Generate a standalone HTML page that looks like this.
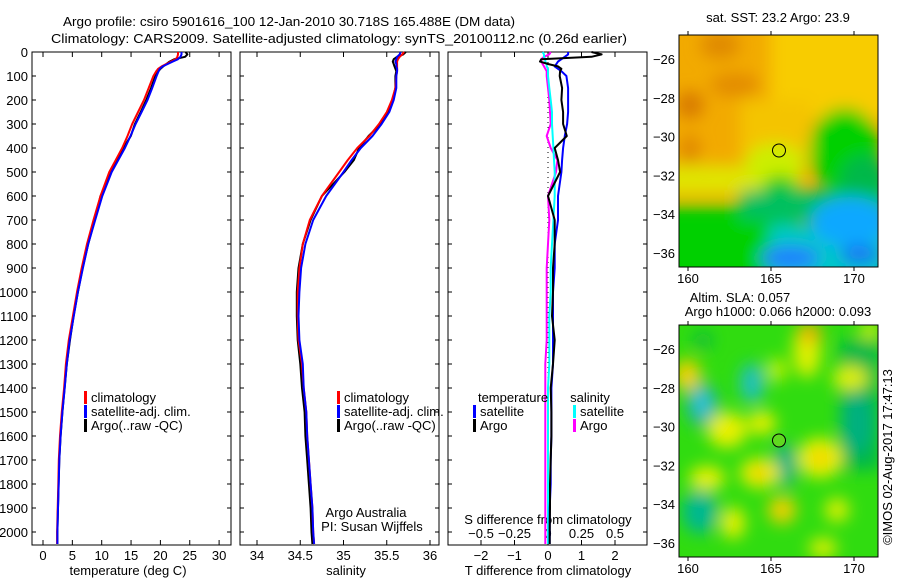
<!DOCTYPE html>
<html><head><meta charset="utf-8"><style>
body{margin:0;background:#fff}
svg text{font-family:"Liberation Sans",sans-serif;font-size:13px;fill:#000}
</style></head><body>
<svg id="c" width="900" height="580" xmlns="http://www.w3.org/2000/svg">
<defs>
<filter id="bl" x="-20%" y="-20%" width="140%" height="140%"><feGaussianBlur stdDeviation="8"/></filter>
<clipPath id="m1c"><rect x="679" y="35" width="199" height="232"/></clipPath>
<clipPath id="m2c"><rect x="679" y="325" width="199" height="232"/></clipPath>
</defs>
<text x="63" y="26" font-size="14" textLength="452" lengthAdjust="spacingAndGlyphs">Argo profile: csiro 5901616_100 12-Jan-2010 30.718S 165.488E (DM data)</text>
<text x="51" y="43" font-size="14" textLength="576" lengthAdjust="spacingAndGlyphs">Climatology: CARS2009. Satellite-adjusted climatology: synTS_20100112.nc (0.26d earlier)</text>
<g id="plots"></g>
<!-- SST map -->
<g clip-path="url(#m1c)">
<rect x="679" y="35" width="199" height="232" fill="#f2aa00"/>
<g filter="url(#bl)">
<rect x="770" y="15" width="130" height="105" fill="#f8cc00"/>
<rect x="740" y="100" width="70" height="60" fill="#f4c400"/>
<ellipse cx="720" cy="45" rx="20" ry="14" fill="#e08a00"/>
<ellipse cx="735" cy="85" rx="25" ry="12" fill="#e38c00"/>
<ellipse cx="690" cy="105" rx="14" ry="14" fill="#d87a00"/>
<ellipse cx="690" cy="150" rx="10" ry="16" fill="#e08800"/>
<rect x="660" y="165" width="140" height="30" fill="#e0e400"/>
<ellipse cx="775" cy="165" rx="30" ry="22" fill="#ccee00"/>
<rect x="660" y="205" width="120" height="80" fill="#00d000"/>
<ellipse cx="780" cy="205" rx="22" ry="30" fill="#00cc10"/>
<ellipse cx="845" cy="150" rx="35" ry="42" fill="#00d000"/>
<ellipse cx="865" cy="180" rx="25" ry="25" fill="#00b848"/>
<rect x="740" y="190" width="150" height="30" fill="#00c060"/>
<rect x="770" y="225" width="120" height="60" fill="#00c8c8"/>
<ellipse cx="850" cy="222" rx="40" ry="25" fill="#10a8ff"/>
<ellipse cx="790" cy="258" rx="30" ry="12" fill="#2080ff"/>
<ellipse cx="860" cy="255" rx="20" ry="10" fill="#1878f0"/>
</g>
</g>
<rect x="679" y="35" width="199" height="232" fill="none" stroke="#000"/>
<circle cx="779" cy="150.5" r="6.5" fill="none" stroke="#000"/>
<text x="778" y="22" text-anchor="middle" font-size="12">sat. SST: 23.2 Argo: 23.9</text>
<!-- SLA map -->
<g clip-path="url(#m2c)">
<rect x="679" y="325" width="199" height="232" fill="#30dc10"/>
<g filter="url(#bl)">
<rect x="840" y="340" width="40" height="130" fill="#00b848"/>
<ellipse cx="857" cy="423" rx="16" ry="30" fill="#00b080"/>
<ellipse cx="703" cy="340" rx="10" ry="8" fill="#10b840"/>
<ellipse cx="702" cy="405" rx="16" ry="22" fill="#20b0a0"/>
<ellipse cx="702" cy="403" rx="8" ry="12" fill="#30c8e0"/>
<ellipse cx="752" cy="383" rx="12" ry="20" fill="#20c0c0"/>
<ellipse cx="700" cy="512" rx="18" ry="22" fill="#00b890"/>
<ellipse cx="785" cy="465" rx="12" ry="22" fill="#00b088"/>
<ellipse cx="807" cy="350" rx="14" ry="28" fill="#e0f000"/>
<ellipse cx="810" cy="333" rx="12" ry="10" fill="#f0b000"/>
<ellipse cx="687" cy="375" rx="14" ry="16" fill="#f0d000"/>
<ellipse cx="727" cy="430" rx="20" ry="18" fill="#e8f000"/>
<ellipse cx="707" cy="478" rx="18" ry="12" fill="#e8f000"/>
<ellipse cx="760" cy="473" rx="20" ry="15" fill="#eef000"/>
<ellipse cx="760" cy="473" rx="8" ry="6" fill="#f0c000"/>
<ellipse cx="820" cy="458" rx="22" ry="20" fill="#eef000"/>
<ellipse cx="820" cy="458" rx="8" ry="8" fill="#f0c800"/>
<ellipse cx="782" cy="510" rx="14" ry="14" fill="#f0d000"/>
<ellipse cx="733" cy="523" rx="12" ry="16" fill="#e8f000"/>
<ellipse cx="837" cy="510" rx="12" ry="12" fill="#e0f000"/>
<ellipse cx="850" cy="378" rx="18" ry="12" fill="#e0f000"/>
<ellipse cx="762" cy="423" rx="14" ry="12" fill="#e8f000"/>
<ellipse cx="777" cy="370" rx="10" ry="12" fill="#c0f000"/>
<ellipse cx="823" cy="548" rx="14" ry="10" fill="#e0f000"/>
<ellipse cx="870" cy="330" rx="10" ry="8" fill="#e0f000"/>
</g>
</g>
<rect x="679" y="325" width="199" height="232" fill="none" stroke="#000"/>
<circle cx="779" cy="440.5" r="6.5" fill="#60d820" stroke="#000"/>
<text x="740" y="302" text-anchor="middle" font-size="12">Altim. SLA: 0.057</text>
<text x="778" y="316" text-anchor="middle" font-size="12">Argo h1000: 0.066 h2000: 0.093</text>
<text transform="translate(892,457) rotate(-90)" text-anchor="middle" font-size="12">©IMOS 02-Aug-2017 17:47:13</text>
</svg>
<script>
const depths=[0,10,20,30,40,50,60,70,80,100,150,200,250,300,350,400,450,500,600,700,800,900,1000,1100,1200,1300,1400,1500,1600,1700,1800,1900,2000,2050];
const tempClim=[23.0,23.0,22.9,22.6,21.8,21.0,20.2,19.6,19.3,18.8,18.0,17.2,16.2,15.2,14.4,13.5,12.4,11.3,9.8,8.6,7.5,6.6,5.8,5.1,4.4,3.9,3.6,3.2,2.9,2.7,2.6,2.5,2.4,2.4];
const tDiffSat=[0.6,0.6,0.5,0.4,0.3,0.25,0.2,0.3,0.4,0.55,0.6,0.6,0.6,0.57,0.5,0.45,0.42,0.4,0.3,0.3,0.2,0.2,0.15,0.15,0.15,0.15,0.1,0.1,0.1,0.08,0.08,0.05,0.05,0.05];
const tDiffArgo=[1.3,1.6,1.3,-0.2,-0.24,0.0,0.3,0.4,0.36,0.35,0.42,0.4,0.45,0.45,0.56,0.2,0.3,0.36,0.0,0.2,0.2,0.15,0.15,0.12,0.2,0.15,0.08,0.1,0.1,0.08,0.06,0.06,0.05,0.05];
const salClim=[35.7,35.68,35.65,35.63,35.62,35.62,35.62,35.62,35.62,35.61,35.6,35.56,35.5,35.41,35.3,35.16,35.05,34.95,34.75,34.61,34.53,34.49,34.47,34.47,34.48,34.52,34.54,34.57,34.58,34.6,34.62,34.64,34.65,34.66];
const sDiffSat=[-0.04,-0.03,-0.03,-0.02,-0.02,-0.01,-0.01,0,0,0,0.01,0.02,0.03,0.03,0.035,0.04,0.045,0.05,0.05,0.04,0.03,0.02,0.02,0.01,0.01,0.01,0,0,0,0,0,0,0,0];
const sDiffArgo=[0.02,0.01,-0.03,-0.05,-0.05,-0.04,-0.03,-0.02,-0.01,-0.01,0,0.01,0.015,0.02,-0.01,0.02,0.07,0.06,0.0,0.01,0.0,-0.01,-0.01,-0.01,-0.01,-0.02,-0.02,-0.02,-0.02,-0.02,-0.02,-0.02,-0.02,-0.02];
const depthTicks=[0,100,200,300,400,500,600,700,800,900,1000,1100,1200,1300,1400,1500,1600,1700,1800,1900,2000];
const tempTicks=[0,5,10,15,20,25,30];
const salTicks=[34,34.5,35,35.5,36];
const tdTicks=[-2,-1,0,1,2];
const sdTicks=[-0.5,-0.25,0,0.25,0.5];
const sdTickLabels=['\u22120.5','\u22120.25','0','0.25','0.5'];
const latTicks=[-26,-28,-30,-32,-34,-36];
const lonTicks=[160,165,170];

const NS='http://www.w3.org/2000/svg';
const root=document.getElementById('plots');
function mk(tag,attrs,parent){const e=document.createElementNS(NS,tag);for(const k in attrs)e.setAttribute(k,attrs[k]);(parent||root).appendChild(e);return e;}
const yD=d=>52+0.24*d;
const xT=t=>43+5.87*t;
const xS=s=>257+86.5*(s-34);
const xTD=t=>548+33.5*t;
const xSD=s=>548+134*s;
const PY0=52,PY1=545;
const panels=[[32,231],[240,439],[448,647]];

panels.forEach((p,i)=>{
  const r=mk('rect',{x:p[0],y:PY0,width:p[1]-p[0],height:PY1-PY0,fill:'none',stroke:'#000'});
  
  
  depthTicks.forEach(d=>{
    const a=mk('line',{x1:p[0],x2:p[0]+4,y1:yD(d),y2:yD(d),stroke:'#000'});
    
    
    const b=mk('line',{x1:p[1]-4,x2:p[1],y1:yD(d),y2:yD(d),stroke:'#000'});
    
    
  });
});
depthTicks.forEach(d=>{
  const t=mk('text',{x:28,y:yD(d)+5,'text-anchor':'end'});t.textContent=d;
  
  
});
function xticks(ticks,fx,labels,y,topTicks){
  ticks.forEach((v,i)=>{
    const x=fx(v);
    const l=mk('line',{x1:x,x2:x,y1:PY1,y2:PY1-5,stroke:'#000'});
    
    
    if(topTicks){const l2=mk('line',{x1:x,x2:x,y1:PY0,y2:PY0+5,stroke:'#000'});
      
      }
    const t=mk('text',{x:x,y:y,'text-anchor':'middle'});t.textContent=labels?labels[i]:String(v).replace('-','\u2212');
    
    
  });
}
xticks(tempTicks,xT,null,560,true);
xticks(salTicks,xS,null,560,true);
xticks(tdTicks,xTD,null,560,true);
sdTicks.forEach((v,i)=>{
  const t=mk('text',{x:xSD(v),y:538,'text-anchor':'middle'});t.textContent=sdTickLabels[i];
  
  
});
function label(txt,x,y,name){const t=mk('text',{x:x,y:y,'text-anchor':'middle'});t.textContent=txt;
  
  }
label('temperature (deg C)',128,575,'temperature-axis-title');
label('salinity',346,575,'salinity-axis-title');
label('T difference from climatology',548,575,'t-diff-axis-title');
label('S difference from climatology',548,524,'s-diff-axis-title');
label('Argo Australia',366,517,'argo-australia-note');
label('PI: Susan Wijffels',372,531,'pi-note');

function line(vals,fx,color,name,w){
  const pts=vals.map((v,i)=>fx(v).toFixed(1)+','+yD(depths[i]).toFixed(1)).join(' ');
  const p=mk('polyline',{points:pts,fill:'none',stroke:color,'stroke-width':w||2,'stroke-linejoin':'round'});
  
  
}
const tempSat=tempClim.map((v,i)=>v+tDiffSat[i]);
const tempArgo=tempClim.map((v,i)=>v+tDiffArgo[i]);
const salSat=salClim.map((v,i)=>v+sDiffSat[i]);
const salArgo=salClim.map((v,i)=>v+sDiffArgo[i]);
line(tempArgo,xT,'#000','temp-argo-line');
line(tempClim,xT,'#f00','temp-climatology-line');
line(tempSat,xT,'#00f','temp-satellite-line');
line(salArgo,xS,'#000','sal-argo-line');
line(salClim,xS,'#f00','sal-climatology-line');
line(salSat,xS,'#00f','sal-satellite-line');
const zl=mk('line',{x1:548,x2:548,y1:PY0,y2:PY1,stroke:'#000','stroke-dasharray':'1,4'});


line(sDiffArgo,xSD,'#f0f','s-diff-argo-line');
line(sDiffSat,xSD,'#0ff','s-diff-satellite-line');
line(tDiffSat,xTD,'#00f','t-diff-satellite-line');
line(tDiffArgo,xTD,'#000','t-diff-argo-line');

function legend(x,y,color,txt,name){
  const r=mk('rect',{x:x,y:y-11,width:3,height:13,fill:color});
  
  
  if(txt){const t=mk('text',{x:x+7,y:y});t.textContent=txt;
  
  }
}
[[32,84],[240,337]].forEach((p,i)=>{
  legend(p[1],402,'#f00','climatology','legend-climatology-'+(i+1));
  legend(p[1],416,'#00f','satellite-adj. clim.','legend-satellite-'+(i+1));
  legend(p[1],430,'#000','Argo(..raw -QC)','legend-argo-'+(i+1));
});
label('temperature',513,402,'legend-temperature-header');
label('salinity',590,402,'legend-salinity-header');
legend(473,416,'#00f','satellite','legend-t-satellite');
legend(473,430,'#000','Argo','legend-t-argo');
legend(573,416,'#0ff','satellite','legend-s-satellite');
legend(573,430,'#f0f','Argo','legend-s-argo');

const yLat1=l=>59+19.4*(-26-l), yLat2=l=>349+19.4*(-26-l), xLon=l=>688+16.6*(l-160);
[[yLat1,35,267,278],[yLat2,325,557,568]].forEach((m,mi)=>{
  latTicks.forEach(l=>{
    const y=m[0](l);
    const a=mk('line',{x1:679,x2:683,y1:y,y2:y,stroke:'#000'});
    
    
    const b=mk('line',{x1:874,x2:878,y1:y,y2:y,stroke:'#000'});
    
    
    const t=mk('text',{x:675,y:y+5,'text-anchor':'end'});t.textContent=String(l).replace('-','\u2212');
    
    
  });
  lonTicks.forEach(l=>{
    const x=xLon(l);
    const a=mk('line',{x1:x,x2:x,y1:m[1]-4,y2:m[1],stroke:'#000'});
    
    
    const b=mk('line',{x1:x,x2:x,y1:m[2],y2:m[2]+4,stroke:'#000'});
    
    
    const t=mk('text',{x:x,y:m[3]+5,'text-anchor':'middle'});t.textContent=l;
    
    
  });
});
</script>
</body></html>
